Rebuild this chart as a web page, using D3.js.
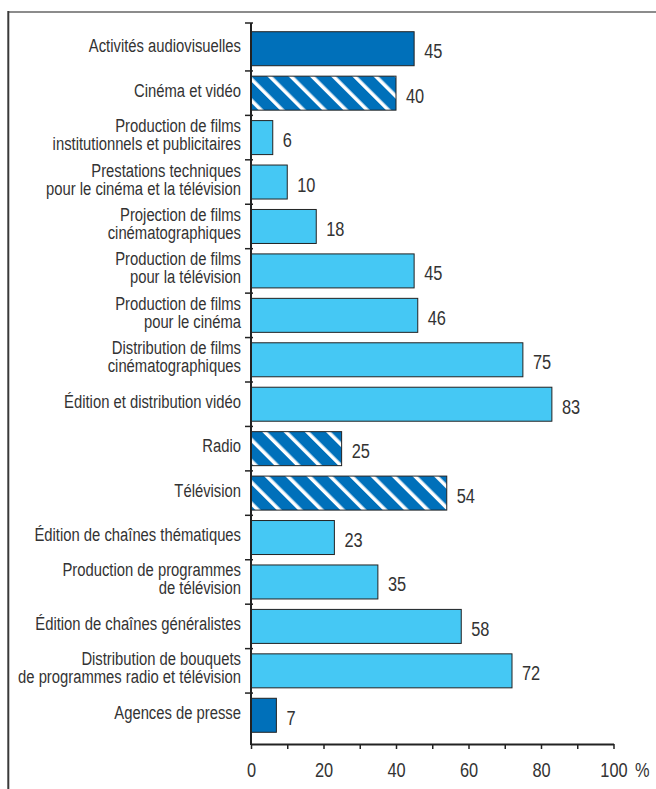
<!DOCTYPE html>
<html>
<head>
<meta charset="utf-8">
<script src="https://cdn.jsdelivr.net/npm/d3@7"></script>
<style>
  body { margin: 0; background: #fff; }
  svg text { font-family: "Liberation Sans", Arial, sans-serif; fill: #333; }
</style>
</head>
<body>
<svg id="chart" width="656" height="789"></svg>
<script>
// category labels (one entry per line)
var labels = [
  ["Activités audiovisuelles"],
  ["Cinéma et vidéo"],
  ["Production de films", "institutionnels et publicitaires"],
  ["Prestations techniques", "pour le cinéma et la télévision"],
  ["Projection de films", "cinématographiques"],
  ["Production de films", "pour la télévision"],
  ["Production de films", "pour le cinéma"],
  ["Distribution de films", "cinématographiques"],
  ["Édition et distribution vidéo"],
  ["Radio"],
  ["Télévision"],
  ["Édition de chaînes thématiques"],
  ["Production de programmes", "de télévision"],
  ["Édition de chaînes généralistes"],
  ["Distribution de bouquets", "de programmes radio et télévision"],
  ["Agences de presse"]
];
var values = [45, 40, 6, 10, 18, 45, 46, 75, 83, 25, 54, 23, 35, 58, 72, 7];
// total = secteur, group = sous-ensemble (hachuré), detail = activité
var kinds = ["total", "group", "detail", "detail", "detail", "detail", "detail", "detail",
  "detail", "group", "group", "detail", "detail", "detail", "detail", "total"];
var xTicks = [0, 10, 20, 30, 40, 50, 60, 70, 80, 90, 100];

var svg = d3.select("#chart");
var dark = "#0070ba", light = "#45c8f4";
var narrow = 0.78; // condensed look

// frame (top and left edges only)
svg.append("line").attr("x1", 8).attr("x2", 656).attr("y1", 12).attr("y2", 12)
  .attr("stroke", "#8c8c8c").attr("stroke-width", 2);
svg.append("line").attr("x1", 8.3).attr("x2", 8.3).attr("y1", 11).attr("y2", 789)
  .attr("stroke", "#3a3a3a").attr("stroke-width", 2);

// hatch pattern
var pat = svg.append("defs").append("pattern")
  .attr("id", "hatch")
  .attr("patternUnits", "userSpaceOnUse")
  .attr("width", 15).attr("height", 15)
  .attr("patternTransform", "rotate(-45)");
pat.append("rect").attr("width", 15).attr("height", 15).attr("fill", dark);
pat.append("rect").attr("x", 0).attr("width", 3.6).attr("height", 15).attr("fill", "#fff");

var x = d3.scaleLinear().domain([0, 100]).range([251, 613.5]);
var y = d3.scaleBand()
  .domain(d3.range(values.length))
  .range([26.5, 737.5])
  .paddingInner(0.235)
  .paddingOuter(0.1175);

// bars
svg.selectAll("rect.bar")
  .data(values)
  .enter()
  .append("rect")
  .attr("class", "bar")
  .attr("x", x(0))
  .attr("y", function(d, i) { return y(i); })
  .attr("width", function(d) { return x(d) - x(0); })
  .attr("height", y.bandwidth())
  .attr("fill", function(d, i) {
    if (kinds[i] == "total") return dark;
    if (kinds[i] == "group") return "url(#hatch)";
    return light;
  })
  .attr("stroke", "#222")
  .attr("stroke-width", 1);

// value labels
svg.selectAll("text.val")
  .data(values)
  .enter()
  .append("text")
  .attr("class", "val")
  .attr("transform", function(d, i) {
    return "translate(" + (x(d) + 10) + "," + (y(i) + y.bandwidth() / 2 + 9.5) + ") scale(" + narrow + ",1)";
  })
  .attr("font-size", "21px")
  .text(function(d) { return d; });

// category labels
var lab = svg.selectAll("text.cat")
  .data(labels)
  .enter()
  .append("text")
  .attr("class", "cat")
  .attr("text-anchor", "end")
  .attr("font-size", "19px")
  .attr("transform", "translate(241,0) scale(" + narrow + ",1)");
lab.each(function(lines, i) {
  var c = y(i) + y.bandwidth() / 2;
  var base = lines.length == 1 ? c + 3.5 : c - 5.5;
  var t = d3.select(this);
  lines.forEach(function(s, k) {
    t.append("tspan").attr("x", 0).attr("y", base + k * 18).text(s);
  });
});

// y axis line + separators
svg.append("line").attr("x1", x(0)).attr("x2", x(0)).attr("y1", 23).attr("y2", 745)
  .attr("stroke", "#222").attr("stroke-width", 2);
var seps = [23].concat(d3.range(1, values.length).map(function(i) {
  return y(i) - y.step() * y.paddingInner() / 2;
}));
svg.selectAll("line.sep")
  .data(seps)
  .enter()
  .append("line")
  .attr("x1", x(0) - 6).attr("x2", x(0) + 2)
  .attr("y1", function(d) { return d; })
  .attr("y2", function(d) { return d; })
  .attr("stroke", "#222").attr("stroke-width", 1.5);

// x axis
var xAxis = svg.append("g")
  .attr("transform", "translate(0,744)")
  .call(d3.axisBottom(x)
    .tickValues(xTicks)
    .tickSize(5)
    .tickSizeOuter(0)
    .tickPadding(13)
    .tickFormat(function(d) { return d % 20 == 0 ? d : ""; }));
xAxis.select(".domain").attr("stroke", "#222").attr("stroke-width", 2);
xAxis.selectAll(".tick line").attr("stroke", "#222").attr("stroke-width", 1.5);
xAxis.selectAll(".tick text")
  .attr("font-size", "21px")
  .attr("font-family", "Liberation Sans, Arial, sans-serif")
  .attr("fill", "#333")
  .attr("transform", "scale(" + narrow + ",1)");

svg.append("text")
  .attr("transform", "translate(635,777) scale(" + narrow + ",1)")
  .attr("font-size", "21px")
  .text("%");
</script>
</body>
</html>
